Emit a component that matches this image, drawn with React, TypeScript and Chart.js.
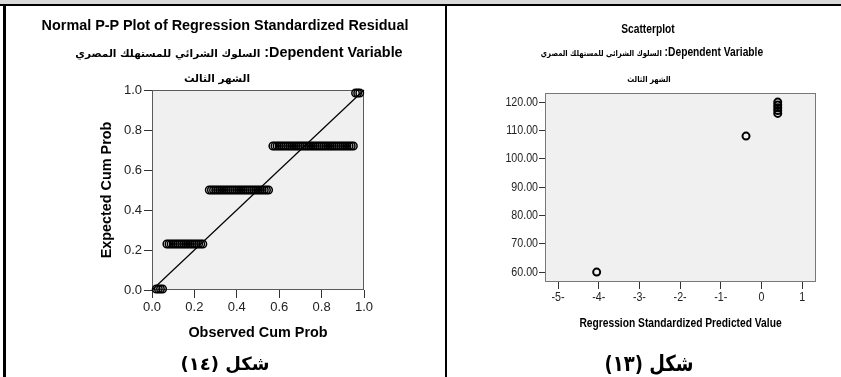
import React, { useEffect, useRef } from 'react';
import { Chart, registerables } from 'chart.js';

Chart.register(...registerables);

// ---------- Data: Normal P-P plot ----------
const ppLevels = [0.005, 0.23, 0.5, 0.72, 0.985];
const ppObservedByLevel = [
  [0.02, 0.03, 0.04, 0.05],
  [0.07, 0.08, 0.09, 0.10, 0.11, 0.12, 0.13, 0.14, 0.15, 0.16, 0.17, 0.18, 0.19, 0.20, 0.21, 0.22, 0.23, 0.24],
  [0.27, 0.28, 0.29, 0.30, 0.31, 0.32, 0.33, 0.34, 0.35, 0.36, 0.37, 0.38, 0.39, 0.40, 0.41, 0.42, 0.43, 0.44, 0.45, 0.46, 0.47, 0.48, 0.49, 0.50, 0.51, 0.52, 0.53, 0.54, 0.55],
  [0.57, 0.58, 0.59, 0.60, 0.61, 0.62, 0.63, 0.64, 0.65, 0.66, 0.67, 0.68, 0.69, 0.70, 0.71, 0.72, 0.73, 0.74, 0.75, 0.76, 0.77, 0.78, 0.79, 0.80, 0.81, 0.82, 0.83, 0.84, 0.85, 0.86, 0.87, 0.88, 0.89, 0.90, 0.91, 0.92, 0.93, 0.94, 0.95],
  [0.96, 0.97, 0.98],
];
const ppReferenceX = [0, 1];
const ppReferenceY = [0, 1];
const ppAxisTicks = [0, 0.2, 0.4, 0.6, 0.8, 1.0];

// ---------- Data: Scatterplot ----------
const scatterX = [-4.05, -0.38, 0.4, 0.4, 0.4, 0.4, 0.4];
const scatterY = [60, 108, 116, 117, 118, 119, 120];
const scatterXTicks = [-5, -4, -3, -2, -1, 0, 1];
const scatterXTickLabels = ['-5-', '-4-', '-3-', '-2-', '-1-', '0', '1'];
const scatterYTicks = [60, 70, 80, 90, 100, 110, 120];

// ---------- Text ----------
const ppTitleMain = 'Normal P-P Plot of Regression Standardized Residual';
const scatterTitleMain = 'Scatterplot';
const depLabel = ' :Dependent Variable';
const depVariable = 'السلوك الشرائي للمستهلك المصري';
const depVariableLine2 = 'الشهر الثالث';
const ppCaption = '\u200Fشكل (١٤)\u200F';
const scatterCaption = '\u200Fشكل (١٣)\u200F';

const FONT = '"Liberation Sans", Arial, "DejaVu Sans", sans-serif';
const ARABIC = '"DejaVu Sans", sans-serif';
const NARROW_FACTOR = 0.82;

const framePlugin = {
  id: 'frame',
  beforeDatasetsDraw(chart: any, _args: any, opts: any) {
    const { ctx, chartArea } = chart;
    const { left, top, width, height } = chartArea;
    ctx.save();
    ctx.fillStyle = opts.bg || '#f0f0f0';
    ctx.fillRect(left, top, width, height);
    ctx.strokeStyle = opts.border || '#666';
    ctx.lineWidth = 1;
    ctx.strokeRect(Math.round(left) + 0.5, Math.round(top) + 0.5, Math.round(width) - 1, Math.round(height) - 1);
    ctx.restore();
  },
};

// Horizontally condenses the text of one chart (imitates a narrow typeface).
const narrowTextPlugin = {
  id: 'narrowText',
  beforeInit(chart: any) {
    const ctx = chart.ctx;
    if (ctx.__narrowed) return;
    const origFill = ctx.fillText;
    const origMeasure = ctx.measureText;
    ctx.fillText = function (text: string, x: number, y: number) {
      this.save();
      this.translate(x, y);
      this.scale(NARROW_FACTOR, 1);
      origFill.call(this, text, 0, 0);
      this.restore();
    };
    ctx.measureText = function (text: string) {
      const m = origMeasure.call(this, text);
      return { width: m.width * NARROW_FACTOR, actualBoundingBoxAscent: m.actualBoundingBoxAscent, actualBoundingBoxDescent: m.actualBoundingBoxDescent };
    };
    ctx.__narrowed = true;
  },
};

function makePP(canvas: HTMLCanvasElement) {
  const points = ppObservedByLevel.flatMap((xs, i) => xs.map((x) => ({ x, y: ppLevels[i] })));
  const ref = ppReferenceX.map((x, i) => ({ x, y: ppReferenceY[i] }));
  return new Chart(canvas, {
    type: 'scatter',
    data: {
      datasets: [
        {
          type: 'line',
          data: ref,
          borderColor: '#000',
          borderWidth: 1.2,
          pointRadius: 0,
          fill: false,
          clip: false as any,
        } as any,
        {
          data: points,
          pointRadius: 3.7,
          pointBorderWidth: 1.5,
          borderColor: '#000',
          backgroundColor: 'rgba(0,0,0,0)',
          clip: false as any,
        } as any,
      ],
    },
    plugins: [framePlugin],
    options: {
      animation: false,
      responsive: false,
      devicePixelRatio: 1,
      layout: { padding: { left: 4, right: 0, top: 90, bottom: 0 } },
      plugins: {
        legend: { display: false },
        tooltip: { enabled: false },
        frame: { bg: '#f0f0f0', border: '#5a5a5a' },
        title: { display: false },
        subtitle: {
          display: true,
          position: 'bottom',
          text: ppCaption,
          color: '#000',
          font: { family: ARABIC, size: 18, weight: 'bold', lineHeight: '24px' },
          padding: { top: 11.3, bottom: 0 },
        },
      } as any,
      scales: {
        x: {
          type: 'linear',
          position: 'bottom',
          min: 0,
          max: 1,
          afterBuildTicks: (s: any) => { s.ticks = ppAxisTicks.map((value) => ({ value })); },
          afterFit: (s: any) => { s.height = 51.7; },
          grid: { drawOnChartArea: false, drawTicks: true, tickLength: 8, color: '#333' },
          border: { display: false },
          ticks: {
            padding: 2,
            maxRotation: 0,
            color: '#222',
            font: { family: FONT, size: 13 },
            callback: (v: any) => Number(v).toFixed(1),
          },
          title: {
            display: true,
            text: 'Observed Cum Prob',
            color: '#000',
            font: { family: FONT, size: 14.4, weight: 'bold' },
            padding: { top: 0, bottom: 0 },
          },
        },
        y: {
          type: 'linear',
          position: 'left',
          min: 0,
          max: 1,
          afterBuildTicks: (s: any) => { s.ticks = ppAxisTicks.map((value) => ({ value })); },
          afterFit: (s: any) => { s.width = 148; },
          grid: { drawOnChartArea: false, drawTicks: true, tickLength: 8, color: '#333' },
          border: { display: false },
          ticks: {
            padding: 2,
            color: '#222',
            font: { family: FONT, size: 13 },
            callback: (v: any) => Number(v).toFixed(1),
          },
          title: {
            display: true,
            text: 'Expected Cum Prob',
            color: '#000',
            font: { family: FONT, size: 14.4, weight: 'bold' },
            padding: { top: 94.4, bottom: 0 },
          },
        },
        spacer: {
          type: 'linear',
          position: 'right',
          grid: { display: false },
          border: { display: false },
          ticks: { display: false },
          afterFit: (s: any) => { s.width = 82; },
        },
      } as any,
    },
  } as any);
}

function makeScatter(canvas: HTMLCanvasElement) {
  const points = scatterX.map((x, i) => ({ x, y: scatterY[i] }));
  return new Chart(canvas, {
    type: 'scatter',
    data: {
      datasets: [
        {
          data: points,
          pointRadius: 3.5,
          pointBorderWidth: 2,
          borderColor: '#000',
          backgroundColor: 'rgba(0,0,0,0)',
        },
      ],
    },
    plugins: [narrowTextPlugin, framePlugin],
    options: {
      animation: false,
      responsive: false,
      devicePixelRatio: 1,
      layout: { padding: { left: 10, right: 0, top: 93, bottom: 0 } },
      plugins: {
        legend: { display: false },
        tooltip: { enabled: false },
        frame: { bg: '#f0f0f0', border: '#777' },
        title: { display: false },
        subtitle: {
          display: true,
          position: 'bottom',
          text: scatterCaption,
          color: '#000',
          font: { family: ARABIC, size: 18 / NARROW_FACTOR, weight: 'bold', lineHeight: '24px' },
          padding: { top: 21.5, bottom: 0 },
        },
      } as any,
      scales: {
        x: {
          type: 'linear',
          position: 'bottom',
          min: -5.32,
          max: 1.34,
          afterBuildTicks: (s: any) => { s.ticks = scatterXTicks.map((value) => ({ value })); },
          afterFit: (s: any) => { s.height = 49.5; },
          grid: { drawOnChartArea: false, drawTicks: true, tickLength: 7, color: '#333' },
          border: { display: false },
          ticks: {
            padding: 1,
            maxRotation: 0,
            autoSkip: false,
            color: '#222',
            font: { family: FONT, size: 13 },
            callback: (_v: any, i: number) => scatterXTickLabels[i],
          },
          title: {
            display: true,
            text: 'Regression Standardized Predicted Value',
            color: '#000',
            font: { family: FONT, size: 12.5, weight: 'bold' },
            padding: { top: 0, bottom: 0 },
          },
        },
        y: {
          type: 'linear',
          position: 'left',
          min: 56.5,
          max: 123.2,
          afterBuildTicks: (s: any) => { s.ticks = scatterYTicks.map((value) => ({ value })); },
          afterFit: (s: any) => { s.width = 88; },
          grid: { drawOnChartArea: false, drawTicks: true, tickLength: 6, color: '#333' },
          border: { display: false },
          ticks: {
            padding: 1,
            autoSkip: false,
            color: '#222',
            font: { family: FONT, size: 13 },
            callback: (v: any) => Number(v).toFixed(2),
          },
        },
        spacer: {
          type: 'linear',
          position: 'right',
          grid: { display: false },
          border: { display: false },
          ticks: { display: false },
          afterFit: (s: any) => { s.width = 25; },
        },
      } as any,
    },
  } as any);
}

function TitleLine(props: { cx: number; cy: number; size: number; scaleX?: number; children: React.ReactNode }) {
  const { cx, cy, size, scaleX = 1, children } = props;
  return (
    <div
      dir="ltr"
      style={{
        position: 'absolute',
        left: cx - 250,
        top: cy - 10,
        width: 500,
        height: 20,
        lineHeight: '20px',
        textAlign: 'center',
        whiteSpace: 'nowrap',
        fontFamily: FONT,
        fontWeight: 'bold',
        fontSize: size,
        color: '#000',
        transform: scaleX !== 1 ? `scaleX(${scaleX})` : undefined,
        transformOrigin: '50% 50%',
      }}
    >
      {children}
    </div>
  );
}

export default function App() {
  const leftRef = useRef<HTMLCanvasElement>(null);
  const rightRef = useRef<HTMLCanvasElement>(null);

  useEffect(() => {
    const a = makePP(leftRef.current!);
    const b = makeScatter(rightRef.current!);
    return () => {
      a.destroy();
      b.destroy();
    };
  }, []);

  const arabicL = { fontFamily: ARABIC, fontSize: 10.5 };
  const arabicR = { fontFamily: ARABIC, fontSize: 8.4 };

  return (
    <div style={{ position: 'absolute', left: 0, top: 0, width: 841, height: 377, background: '#fff', overflow: 'hidden' }}>
      <canvas ref={leftRef} width={446} height={377} style={{ position: 'absolute', left: 0, top: 0, width: 446, height: 377 }} />
      <canvas ref={rightRef} width={394} height={377} style={{ position: 'absolute', left: 447, top: 0, width: 394, height: 377 }} />

      <TitleLine cx={225} cy={25} size={14.4}>{ppTitleMain}</TitleLine>
      <TitleLine cx={239} cy={52} size={14.4}>
        <span style={arabicL}>{depVariable}</span>{depLabel}
      </TitleLine>
      <TitleLine cx={217} cy={77} size={14.4}>
        <span style={arabicL}>{depVariableLine2}</span>
      </TitleLine>

      <TitleLine cx={648} cy={29} size={12.5} scaleX={NARROW_FACTOR}>{scatterTitleMain}</TitleLine>
      <TitleLine cx={652} cy={52} size={12.5} scaleX={NARROW_FACTOR}>
        <span style={arabicR}>{depVariable}</span>{depLabel}
      </TitleLine>
      <TitleLine cx={649} cy={78} size={12.5} scaleX={NARROW_FACTOR}>
        <span style={arabicR}>{depVariableLine2}</span>
      </TitleLine>

      <div style={{ position: 'absolute', left: 0, top: 0, width: 841, height: 4, background: '#d9d9d9' }} />
      <div style={{ position: 'absolute', left: 0, top: 4, width: 841, height: 2, background: '#000' }} />
      <div style={{ position: 'absolute', left: 3, top: 4, width: 3, height: 373, background: '#000' }} />
      <div style={{ position: 'absolute', left: 445, top: 4, width: 2, height: 373, background: '#000' }} />
    </div>
  );
}
